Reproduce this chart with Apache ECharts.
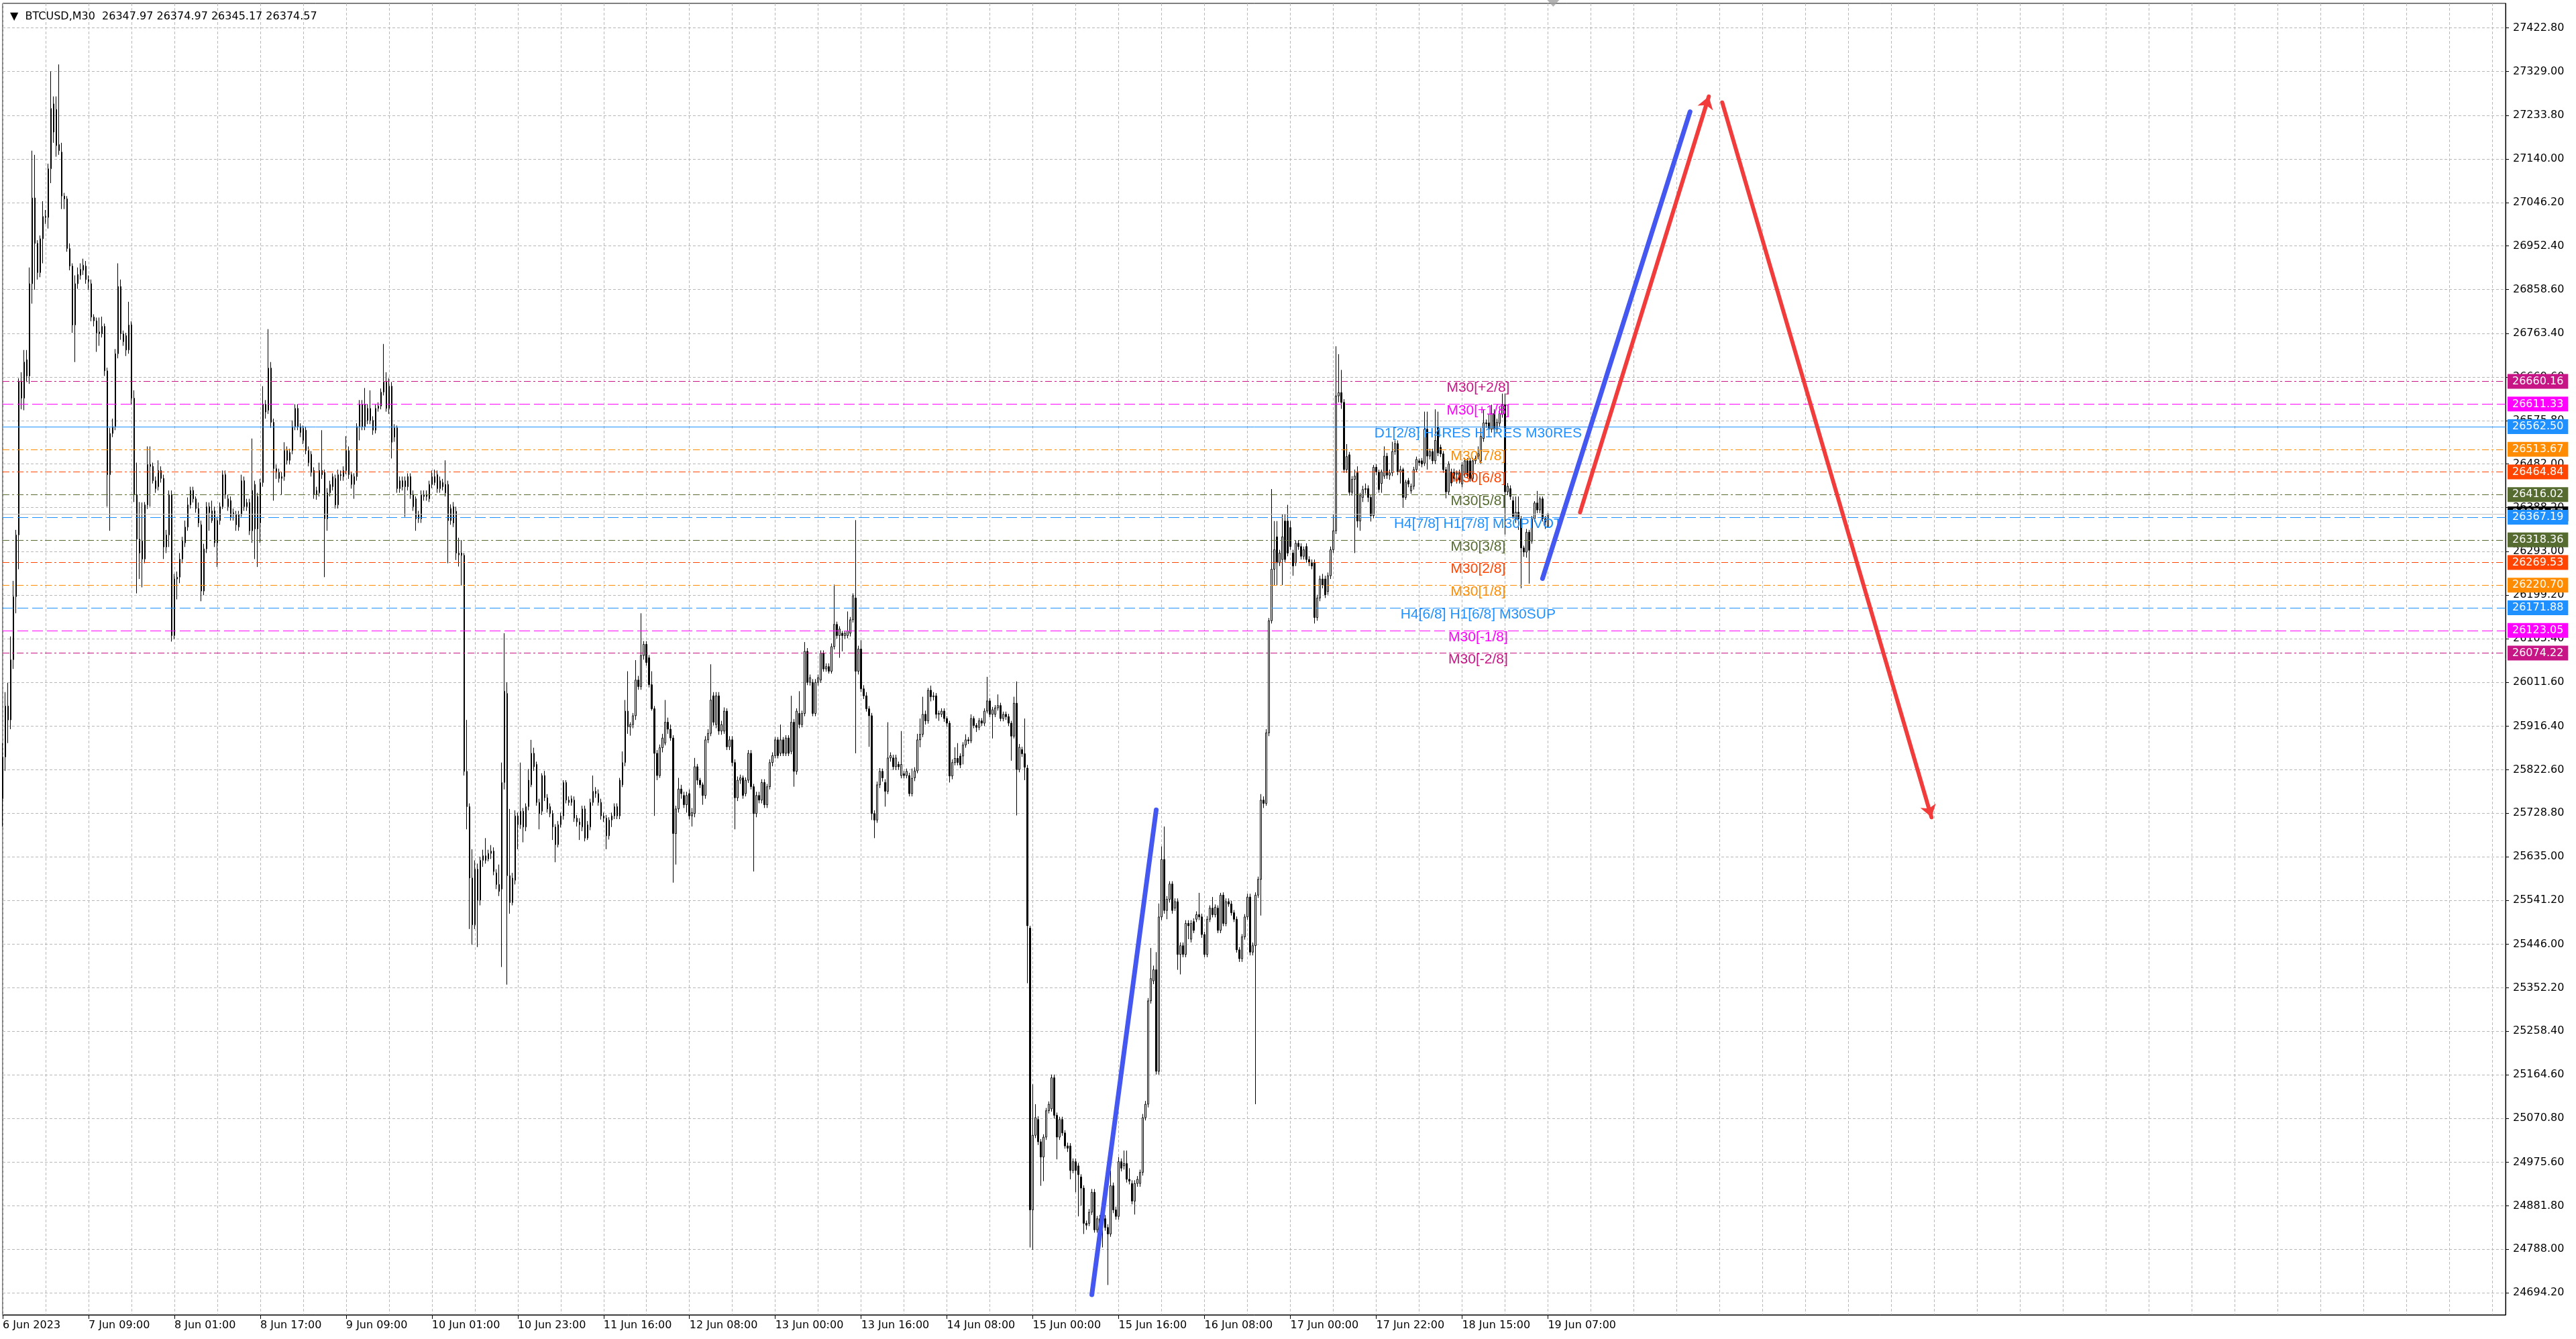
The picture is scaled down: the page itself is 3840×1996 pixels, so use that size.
<!DOCTYPE html>
<html>
<head>
<meta charset="utf-8">
<title>BTCUSD,M30</title>
<script src="https://cdn.jsdelivr.net/npm/echarts@6/dist/echarts.min.js"></script>
<style>
html, body { margin: 0; padding: 0; background: #fff; }
#grafico { width: 3840px; height: 1996px; }
</style>
</head>
<body>
<div id="grafico"></div>
<script>
var symbolName = 'BTCUSD,M30';

// bottom time labels, one every 32 bars (M30)
var timeLabels = ['6 Jun 2023', '7 Jun 09:00', '8 Jun 01:00', '8 Jun 17:00', '9 Jun 09:00',
    '10 Jun 01:00', '10 Jun 23:00', '11 Jun 16:00', '12 Jun 08:00', '13 Jun 00:00',
    '13 Jun 16:00', '14 Jun 08:00', '15 Jun 00:00', '15 Jun 16:00', '16 Jun 08:00',
    '17 Jun 00:00', '17 Jun 22:00', '18 Jun 15:00', '19 Jun 07:00'];

// right price scale labels
var priceTicks = [27422.80, 27329.00, 27233.80, 27140.00, 27046.20, 26952.40, 26858.60, 26763.40,
    26669.60, 26575.80, 26482.00, 26388.20, 26293.00, 26199.20, 26105.40, 26011.60, 25916.40,
    25822.60, 25728.80, 25635.00, 25541.20, 25446.00, 25352.20, 25258.40, 25164.60, 25070.80,
    24975.60, 24881.80, 24788.00, 24694.20];

// [open, close, low, high]
var candles = [
[25760,25850,25700,25880],[25850,25960,25820,25990],[25960,25930,25880,26010],[25930,26060,25910,26110],[26060,26196,26040,26230],
[26196,26329,26160,26340],[26329,26661,26255,26667],[26661,26624,26600,26680],[26624,26702,26598,26728],[26707,26672,26659,26728],
[26672,26871,26655,26906],[26871,27056,26828,27158],[27056,26958,26858,27149],[26958,26895,26880,26965],[26895,26968,26885,26975],
[26968,27016,26915,27049],[27016,27014,27000,27030],[27014,27119,26990,27130],[27119,27249,27088,27329],[27259,27198,27175,27275],
[27247,27169,27145,27275],[27171,27158,27149,27344],[27155,27060,27032,27175],[27060,27054,27032,27067],[27054,26947,26940,27060],
[26947,26909,26900,26958],[26909,26782,26765,26915],[26782,26871,26702,26889],[26871,26891,26860,26906],[26889,26902,26880,26915],
[26900,26911,26890,26925],[26909,26880,26871,26920],[26880,26876,26858,26889],[26871,26799,26790,26880],[26799,26791,26779,26805],
[26791,26765,26724,26798],[26767,26763,26737,26798],[26763,26779,26755,26800],[26779,26683,26672,26785],[26683,26459,26390,26690],
[26459,26548,26338,26560],[26548,26563,26540,26580],[26563,26720,26555,26730],[26720,26865,26710,26915],[26865,26763,26750,26880],
[26763,26746,26737,26770],[26759,26728,26715,26765],[26728,26782,26720,26832],[26782,26624,26610,26790],[26624,26416,26400,26641],
[26416,26320,26203,26485],[26320,26290,26234,26400],[26316,26277,26216,26399],[26277,26394,26268,26400],[26394,26481,26385,26520],
[26481,26477,26390,26520],[26477,26446,26440,26485],[26446,26429,26420,26455],[26433,26468,26425,26490],[26468,26451,26442,26477],
[26451,26303,26277,26459],[26303,26329,26290,26340],[26329,26416,26303,26425],[26416,26112,26099,26425],[26112,26234,26105,26245],
[26234,26238,26190,26250],[26238,26277,26225,26290],[26277,26316,26268,26325],[26312,26346,26303,26360],[26346,26394,26338,26410],
[26394,26425,26386,26433],[26425,26407,26399,26433],[26407,26386,26377,26412],[26386,26355,26346,26399],[26351,26208,26186,26360],
[26208,26299,26199,26310],[26299,26390,26290,26400],[26390,26377,26338,26399],[26360,26381,26355,26403],[26381,26312,26303,26390],
[26312,26360,26260,26368],[26360,26390,26351,26399],[26390,26459,26385,26468],[26459,26416,26407,26468],[26407,26390,26381,26416],
[26403,26368,26360,26412],[26373,26377,26360,26386],[26373,26351,26338,26381],[26346,26373,26338,26381],[26373,26446,26368,26459],
[26446,26390,26381,26455],[26390,26399,26381,26407],[26399,26338,26329,26407],[26338,26425,26312,26537],[26438,26342,26277,26446],
[26412,26342,26260,26420],[26355,26442,26312,26450],[26442,26611,26433,26650],[26594,26611,26580,26620],[26598,26689,26590,26773],
[26689,26572,26560,26702],[26572,26472,26403,26580],[26472,26464,26450,26481],[26464,26451,26442,26472],[26451,26455,26416,26464],
[26455,26511,26446,26529],[26511,26490,26481,26520],[26490,26507,26481,26515],[26511,26563,26503,26576],[26563,26602,26555,26611],
[26602,26563,26555,26611],[26563,26550,26540,26570],[26533,26559,26525,26565],[26555,26511,26503,26563],[26511,26485,26477,26520],
[26503,26464,26455,26510],[26468,26416,26407,26475],[26416,26425,26405,26433],[26420,26468,26412,26485],[26468,26459,26450,26555],
[26464,26364,26238,26470],[26364,26420,26338,26430],[26420,26438,26412,26446],[26433,26455,26425,26462],[26451,26394,26386,26459],
[26394,26459,26386,26470],[26459,26457,26446,26468],[26455,26468,26446,26477],[26468,26511,26460,26542],[26511,26459,26450,26520],
[26459,26438,26429,26464],[26438,26455,26407,26462],[26455,26563,26446,26570],[26563,26611,26533,26620],[26611,26563,26555,26620],
[26563,26611,26555,26646],[26602,26576,26568,26611],[26576,26602,26568,26641],[26576,26555,26545,26585],[26555,26602,26548,26610],
[26602,26607,26595,26615],[26607,26637,26600,26645],[26637,26659,26630,26741],[26659,26602,26595,26680],[26602,26650,26590,26667],
[26650,26529,26494,26659],[26540,26560,26530,26568],[26560,26429,26420,26565],[26429,26446,26420,26455],[26446,26433,26425,26455],
[26433,26446,26368,26455],[26433,26455,26425,26462],[26455,26416,26407,26462],[26416,26390,26381,26425],[26407,26364,26338,26412],
[26364,26373,26355,26381],[26364,26416,26355,26425],[26416,26412,26403,26425],[26412,26416,26403,26425],[26407,26438,26400,26446],
[26438,26455,26430,26468],[26455,26442,26436,26470],[26459,26429,26420,26468],[26429,26446,26420,26455],[26442,26433,26425,26450],
[26438,26420,26412,26490],[26438,26360,26268,26446],[26360,26386,26351,26395],[26390,26355,26346,26400],[26380,26290,26275,26390],
[26290,26286,26261,26323],[26290,26285,26220,26318],[26285,25819,25810,26290],[25819,25743,25694,25930],[25743,25589,25479,25750],
[25589,25488,25445,25651],[25488,25608,25479,25627],[25608,25541,25440,25620],[25541,25627,25530,25635],[25627,25637,25613,25650],
[25637,25627,25620,25675],[25630,25642,25625,25650],[25642,25647,25630,25660],[25647,25603,25595,25655],[25600,25575,25565,25608],
[25575,25560,25550,25618],[25565,25795,25397,25838],[25795,25992,25780,26117],[25987,25594,25359,26011],[25594,25536,25512,25738],
[25536,25589,25530,25600],[25584,25723,25575,25735],[25723,25704,25651,25730],[25704,25733,25695,25838],[25733,25699,25666,25740],
[25699,25743,25690,25750],[25743,25800,25735,25824],[25790,25858,25785,25887],[25858,25829,25820,25870],[25834,25752,25745,25840],
[25752,25728,25694,25760],[25733,25810,25725,25815],[25810,25762,25755,25820],[25762,25738,25730,25770],[25743,25728,25720,25750],
[25728,25699,25671,25735],[25699,25661,25623,25705],[25661,25704,25655,25712],[25704,25723,25698,25730],[25723,25795,25715,25800],
[25795,25757,25750,25800],[25757,25752,25745,25765],[25752,25760,25745,25767],[25757,25718,25710,25765],[25718,25710,25700,25725],
[25710,25704,25671,25718],[25699,25738,25690,25745],[25738,25675,25668,25745],[25675,25704,25671,25712],[25699,25752,25692,25760],
[25752,25776,25745,25810],[25776,25771,25762,25785],[25771,25752,25745,25780],[25752,25723,25715,25760],[25723,25718,25710,25730],
[25718,25680,25651,25725],[25680,25714,25672,25720],[25714,25723,25699,25730],[25723,25743,25716,25750],[25743,25723,25716,25750],
[25723,25800,25716,25805],[25790,25838,25785,25862],[25838,25949,25830,25973],[25949,25915,25900,26035],[25915,25920,25896,25925],
[25920,25939,25912,25945],[25939,26016,25930,26059],[26016,26002,25995,26025],[26002,26069,25995,26160],[26069,26093,26060,26100],
[26093,26054,26047,26100],[26064,26006,26000,26070],[26006,25954,25950,26035],[25954,25858,25723,25960],[25858,25810,25800,25865],
[25810,25870,25805,25877],[25870,25891,25860,25900],[25880,25925,25875,25973],[25925,25910,25900,25935],[25910,25891,25885,25920],
[25891,25685,25579,25897],[25685,25738,25618,25745],[25738,25781,25730,25805],[25781,25771,25760,25790],[25767,25747,25740,25775],
[25747,25767,25730,25775],[25771,25723,25715,25780],[25723,25730,25700,25740],[25728,25829,25720,25848],[25829,25800,25790,25835],
[25800,25790,25783,25805],[25790,25767,25747,25795],[25767,25887,25760,25895],[25887,25901,25880,25910],[25901,25973,25895,26050],
[25982,25925,25918,25990],[25920,25982,25912,25990],[25982,25906,25898,25990],[25906,25920,25898,25928],[25906,25949,25900,25957],
[25949,25872,25865,25955],[25872,25887,25865,25895],[25887,25838,25830,25895],[25838,25762,25694,25845],[25762,25800,25755,25808],
[25800,25805,25792,25812],[25805,25767,25760,25810],[25771,25800,25765,25806],[25800,25858,25794,25865],[25858,25786,25780,25865],
[25786,25728,25603,25792],[25728,25767,25720,25775],[25767,25757,25750,25775],[25757,25795,25750,25802],[25795,25747,25740,25802],
[25747,25786,25740,25792],[25786,25838,25780,25845],[25838,25853,25830,25860],[25853,25887,25847,25893],[25887,25853,25847,25893],
[25858,25887,25852,25920],[25887,25858,25852,25893],[25858,25891,25852,25897],[25891,25858,25852,25897],[25862,25925,25856,25982],
[25925,25819,25786,25932],[25819,25949,25812,25955],[25944,25920,25912,25992],[25920,25944,25914,25950],[25944,26078,25938,26098],
[26078,26011,26005,26085],[26011,26021,26004,26028],[26011,25944,25938,26018],[25944,26011,25938,26018],[26011,26021,26004,26028],
[26016,26074,26010,26080],[26074,26040,26034,26080],[26040,26045,26034,26052],[26045,26035,26030,26052],[26035,26088,26030,26095],
[26088,26136,26082,26222],[26136,26112,26105,26142],[26112,26126,26064,26132],[26117,26112,26078,26122],[26112,26117,26105,26122],
[26112,26122,26106,26164],[26117,26146,26110,26152],[26146,26198,26140,26203],[26193,26035,25858,26361],[26035,26083,26028,26090],
[26083,25997,25990,26102],[25997,25982,25975,26005],[25982,25954,25948,25990],[25954,25939,25872,25960],[25939,25728,25714,25945],
[25728,25714,25675,25735],[25714,25790,25708,25797],[25790,25819,25783,25826],[25819,25805,25797,25825],[25795,25776,25743,25802],
[25776,25848,25770,25925],[25848,25853,25840,25860],[25848,25829,25822,25855],[25829,25848,25822,25855],[25834,25829,25822,25840],
[25810,25834,25804,25906],[25814,25810,25804,25820],[25810,25819,25804,25825],[25810,25771,25765,25816],[25771,25804,25765,25825],
[25805,25820,25798,25828],[25820,25887,25815,25900],[25887,25899,25871,25933],[25899,25942,25893,25980],[25942,25928,25920,25950],
[25928,25994,25922,25999],[25994,25980,25970,26004],[25980,25982,25972,25990],[25982,25942,25933,25988],[25942,25944,25928,25950],
[25942,25949,25936,25955],[25949,25933,25926,25955],[25933,25923,25915,25938],[25923,25809,25795,25928],[25809,25838,25802,25845],
[25838,25847,25832,25871],[25847,25838,25832,25880],[25852,25833,25826,25858],[25852,25876,25834,25882],[25876,25887,25870,25899],
[25887,25885,25878,25893],[25885,25933,25880,25942],[25933,25918,25912,25938],[25918,25914,25904,25923],[25914,25928,25908,25934],
[25928,25923,25917,25934],[25923,25949,25917,25955],[25949,25971,25944,26023],[25971,25942,25936,25977],[25942,25952,25890,25958],
[25942,25956,25936,25962],[25956,25961,25950,25985],[25961,25933,25927,25967],[25933,25942,25927,25948],[25942,25937,25930,25948],
[25937,25923,25917,25943],[25923,25895,25842,25928],[25895,25966,25890,25980],[25966,25823,25724,26013],[25823,25871,25817,25878],
[25866,25857,25850,25872],[25857,25828,25800,25933],[25826,25486,25362,25833],[25481,24873,24792,25486],[24873,25034,24787,25144],
[25034,25072,25028,25101],[25068,25020,25013,25075],[25020,24987,24925,25026],[24987,25030,24935,25036],[25030,25087,25024,25093],
[25087,25101,25081,25107],[25091,25158,25085,25165],[25158,25077,25070,25165],[25077,25030,24982,25083],[25030,25068,25024,25074],
[25068,25039,25033,25074],[25039,25011,25005,25045],[25011,25006,24998,25018],[25011,24958,24939,25017],[24958,24977,24952,24984],
[24977,24958,24911,24984],[24968,24949,24859,24974],[24944,24920,24882,24950],[24920,24844,24821,24926],[24844,24840,24830,24850],
[24844,24868,24838,24875],[24868,24911,24862,24918],[24911,24830,24824,24918],[24830,24854,24824,24860],[24854,24844,24836,24862],
[24854,24844,24792,24860],[24854,24835,24828,24862],[24835,24821,24711,24842],[24821,24925,24815,24958],[24925,24873,24866,24932],
[24873,24859,24852,24880],[24859,24977,24852,24987],[24977,24963,24956,24984],[24968,24973,24960,25001],[24973,24939,24932,25001],
[24939,24935,24928,24963],[24930,24892,24885,24937],[24892,24930,24863,24937],[24930,24939,24923,24946],[24930,24954,24923,24960],
[24954,25072,24947,25080],[25072,25101,25066,25108],[25101,25324,25094,25330],[25324,25372,25318,25438],[25367,25391,25360,25400],
[25391,25172,25165,25429],[25172,25505,25165,25534],[25505,25629,25498,25657],[25629,25519,25512,25700],[25519,25543,25500,25550],
[25543,25576,25536,25582],[25576,25519,25512,25582],[25524,25538,25518,25545],[25538,25424,25391,25545],[25424,25443,25381,25450],
[25443,25424,25418,25450],[25424,25491,25418,25498],[25491,25486,25457,25498],[25457,25491,25450,25498],[25495,25476,25470,25502],
[25500,25510,25494,25517],[25510,25505,25498,25557],[25505,25467,25460,25512],[25467,25424,25418,25473],[25424,25500,25418,25507],
[25500,25524,25494,25530],[25524,25510,25504,25548],[25510,25526,25504,25532],[25524,25476,25470,25530],[25476,25552,25470,25557],
[25552,25491,25485,25558],[25491,25538,25485,25545],[25538,25533,25527,25545],[25533,25514,25508,25540],[25514,25500,25494,25520],
[25500,25434,25428,25506],[25434,25415,25408,25440],[25415,25462,25408,25468],[25462,25505,25456,25511],[25505,25548,25499,25555],
[25548,25429,25422,25555],[25429,25443,25422,25450],[25443,25552,25101,25558],[25552,25586,25546,25592],[25586,25757,25508,25770],
[25757,25750,25740,25765],[25750,25902,25745,25910],[25902,26144,25895,26150],[26144,26255,26138,26428],[26255,26297,26221,26359],
[26325,26269,26221,26359],[26269,26290,26262,26297],[26276,26325,26221,26373],[26359,26276,26269,26373],[26359,26290,26283,26394],
[26345,26304,26297,26359],[26290,26262,26241,26297],[26269,26311,26262,26318],[26311,26304,26297,26318],[26304,26283,26276,26311],
[26283,26297,26276,26304],[26304,26276,26269,26311],[26276,26269,26262,26283],[26269,26262,26255,26276],[26269,26151,26138,26276],
[26151,26193,26144,26200],[26193,26234,26186,26241],[26234,26221,26214,26245],[26234,26200,26193,26241],[26207,26241,26200,26248],
[26241,26297,26234,26304],[26297,26338,26290,26373],[26338,26629,26331,26736],[26629,26636,26615,26719],[26636,26615,26601,26685],
[26615,26470,26463,26622],[26470,26498,26463,26525],[26502,26421,26414,26508],[26421,26449,26414,26456],[26449,26456,26290,26470],
[26463,26359,26345,26477],[26359,26414,26338,26420],[26410,26427,26400,26435],[26427,26429,26418,26440],[26429,26410,26400,26436],
[26410,26371,26358,26415],[26371,26475,26365,26480],[26475,26465,26458,26482],[26465,26427,26420,26470],[26440,26465,26420,26470],
[26456,26499,26450,26520],[26499,26458,26450,26506],[26458,26463,26448,26470],[26463,26509,26456,26530],[26509,26526,26502,26533],
[26526,26465,26458,26533],[26465,26470,26440,26478],[26470,26410,26388,26474],[26410,26443,26405,26448],[26446,26439,26432,26452],
[26424,26434,26418,26440],[26434,26470,26427,26476],[26470,26492,26465,26498],[26489,26485,26478,26494],[26489,26482,26475,26495],
[26484,26557,26478,26595],[26557,26499,26470,26595],[26499,26509,26492,26515],[26509,26489,26482,26515],[26489,26533,26482,26600],
[26562,26506,26499,26595],[26518,26504,26497,26524],[26504,26470,26463,26510],[26470,26422,26408,26476],[26422,26482,26415,26488],
[26465,26441,26434,26472],[26465,26451,26444,26472],[26460,26463,26440,26468],[26463,26448,26440,26470],[26439,26480,26432,26486],
[26460,26489,26453,26495],[26489,26458,26451,26495],[26489,26451,26444,26495],[26451,26489,26444,26495],[26489,26494,26482,26500],
[26499,26504,26492,26520],[26489,26542,26482,26560],[26537,26571,26530,26600],[26571,26569,26560,26578],[26571,26557,26550,26590],
[26557,26591,26550,26610],[26591,26557,26550,26600],[26557,26572,26550,26580],[26570,26591,26563,26600],[26589,26610,26582,26634],
[26610,26422,26330,26634],[26422,26434,26415,26441],[26429,26412,26405,26436],[26403,26369,26364,26412],[26364,26378,26355,26412],
[26378,26364,26340,26412],[26364,26301,26214,26370],[26301,26292,26282,26306],[26292,26335,26280,26342],[26335,26296,26224,26340],
[26316,26364,26310,26370],[26364,26398,26358,26402],[26398,26383,26376,26424],[26383,26407,26376,26412],[26407,26364,26358,26412],
[26364,26357,26342,26370],[26347.97,26374.57,26345.17,26374.97]
];

// murrey levels
var levels = [26660.16, 26611.33, 26562.50, 26513.67, 26464.84, 26416.02, 26367.19,
    26318.36, 26269.53, 26220.70, 26171.88, 26123.05, 26074.22];
var levelNames = ['M30[+2/8]', 'M30[+1/8]', 'D1[2/8] H4RES H1RES M30RES', 'M30[7/8]', 'M30[6/8]',
    'M30[5/8]', 'H4[7/8] H1[7/8] M30PIVOT', 'M30[3/8]', 'M30[2/8]', 'M30[1/8]',
    'H4[6/8] H1[6/8] M30SUP', 'M30[-1/8]', 'M30[-2/8]'];
var levelTextBar = 550;

// drawn objects: [[bar, price], [bar, price]]
var blueLines = [[[406, 24690], [430, 25736]], [[574, 26235], [629, 27242]]];
var redArrows = [[[588, 26378], [636, 27275]], [[641, 27262], [719, 25720]]];

var totalBars = 934;
var priceMin = 24646.6;
var priceMax = 27475.8;

// styles
var levelColors = ['#c71585', '#ff00ff', '#1e90ff', '#ff8c00', '#ff4500', '#556b2f', '#1e90ff',
    '#556b2f', '#ff4500', '#ff8c00', '#1e90ff', '#ff00ff', '#c71585'];
var DASHDOT = [10, 4, 3, 4];
var DASH = [16, 6];
var levelDash = [DASHDOT, DASH, 'solid', DASHDOT, DASHDOT, DASHDOT, DASH,
    DASHDOT, DASHDOT, DASHDOT, DASH, DASH, DASHDOT];
var FONT = 'DejaVu Sans';
var GRID_LINE = { color: '#b8b8b8', type: [4, 3], width: 1 };

var categories = [];
for (var i = 0; i < totalBars; i++) categories.push(String(i));

var lastBar = candles[candles.length - 1];

var levelLines = [{
    yAxis: lastBar[1],
    lineStyle: { color: '#c0c0c0', type: 'solid', width: 1 },
    label: { formatter: lastBar[1].toFixed(2), backgroundColor: '#000000' }
}];
var levelTexts = [];
levels.forEach(function (v, i) {
    levelLines.push({
        yAxis: v,
        lineStyle: { color: levelColors[i], type: levelDash[i], width: 1 },
        label: { formatter: v.toFixed(2), backgroundColor: levelColors[i] }
    });
    levelTexts.push({
        name: levelNames[i],
        coord: [levelTextBar, v],
        label: { formatter: levelNames[i], color: levelColors[i] }
    });
});

function isLabelBar(i) {
    return i % 32 === 0 && i / 32 < timeLabels.length;
}

var myChart = echarts.init(document.getElementById('grafico'));

var option = {
    animation: false,
    backgroundColor: '#ffffff',
    textStyle: { fontFamily: FONT },
    title: {
        text: '\u25BC  ' + symbolName + '  ' +
            [lastBar[0], lastBar[3], lastBar[2], lastBar[1]].map(function (v) { return v.toFixed(2); }).join(' '),
        left: 10,
        top: 12,
        textStyle: { fontFamily: FONT, fontSize: 16, fontWeight: 'normal', color: '#000' }
    },
    grid: {
        left: 4, right: 105, top: 5, bottom: 36,
        show: true, borderColor: '#000', borderWidth: 1, backgroundColor: '#fff'
    },
    xAxis: {
        type: 'category',
        data: categories,
        boundaryGap: false,
        axisLine: { show: true, lineStyle: { color: '#000', width: 1 } },
        axisTick: {
            show: true, length: 6, alignWithLabel: true,
            interval: function (i) { return isLabelBar(i); },
            lineStyle: { color: '#000' }
        },
        axisLabel: {
            interval: function (i) { return isLabelBar(i); },
            formatter: function (v, i) { return timeLabels[i / 32] || ''; },
            align: 'left', margin: 8,
            fontFamily: FONT, fontSize: 16, color: '#000'
        },
        splitLine: {
            show: true,
            interval: function (i) { return i % 16 === 0; },
            lineStyle: GRID_LINE
        }
    },
    yAxis: {
        type: 'value',
        position: 'right',
        min: priceMin,
        max: priceMax,
        axisLine: { show: true, lineStyle: { color: '#000', width: 1 } },
        axisTick: { show: true, length: 5, customValues: priceTicks, lineStyle: { color: '#000' } },
        axisLabel: {
            customValues: priceTicks,
            formatter: function (v) { return v.toFixed(2); },
            margin: 11,
            fontFamily: FONT, fontSize: 16, color: '#000'
        },
        splitLine: { show: true, customValues: priceTicks, lineStyle: GRID_LINE }
    },
    series: [{
        type: 'candlestick',
        data: candles,
        barWidth: 2,
        clip: false,
        silent: true,
        itemStyle: {
            color: '#ffffff', color0: '#000000',
            borderColor: '#000000', borderColor0: '#000000', borderColorDoji: '#000000',
            borderWidth: 1
        },
        markLine: {
            silent: true,
            animation: false,
            symbol: ['none', 'none'],
            label: {
                show: true, position: 'end', distance: 3,
                color: '#ffffff', fontFamily: FONT, fontSize: 16, lineHeight: 16,
                padding: [3, 7, 3, 7]
            },
            data: levelLines
        },
        markPoint: {
            silent: true,
            animation: false,
            symbol: 'circle',
            symbolSize: 1,
            itemStyle: { color: 'rgba(0,0,0,0)' },
            label: {
                show: true, position: 'inside', offset: [0, 10],
                fontFamily: 'Liberation Sans', fontSize: 21
            },
            data: levelTexts
        }
    }, {
        type: 'lines',
        coordinateSystem: 'cartesian2d',
        silent: true,
        z: 6,
        symbol: ['none', 'none'],
        lineStyle: { color: '#4457f0', width: 7, opacity: 1, cap: 'round' },
        data: blueLines.map(function (c) { return { coords: c }; })
    }, {
        type: 'lines',
        coordinateSystem: 'cartesian2d',
        silent: true,
        z: 6,
        symbol: ['none', 'arrow'],
        symbolSize: 18,
        lineStyle: { color: '#f23c3c', width: 6, opacity: 1, cap: 'round' },
        data: redArrows.map(function (c) { return { coords: c }; })
    }, {
        type: 'scatter',
        silent: true,
        clip: false,
        z: 7,
        symbol: 'triangle',
        symbolRotate: 180,
        symbolSize: [18, 10],
        itemStyle: { color: '#a0a0a0' },
        data: [[candles.length + 1, priceMax]]
    }]
};

myChart.setOption(option);
</script>
</body>
</html>
